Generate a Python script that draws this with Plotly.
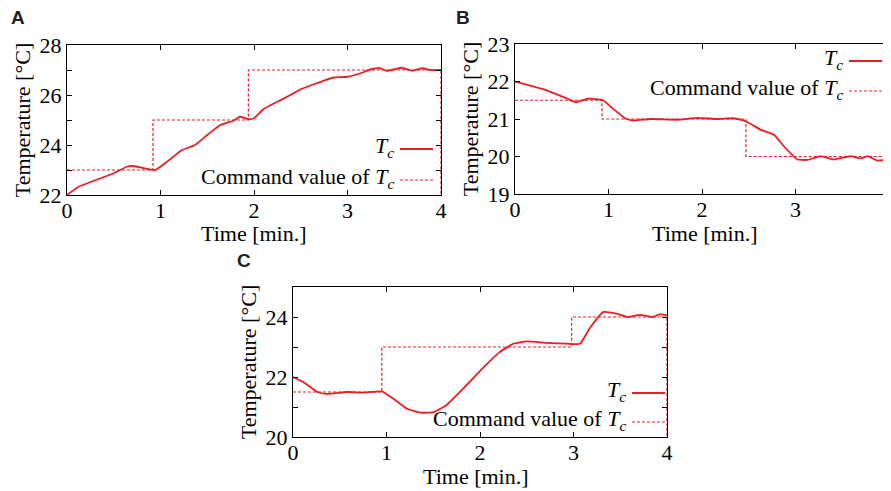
import plotly.graph_objects as go

# ---------------- data ----------------
# Panel A
a_t = [0, 0.125, 0.36, 0.5, 0.64, 0.71, 0.82, 0.945, 1.07, 1.23, 1.37, 1.5, 1.64, 1.78, 1.85, 1.94, 2.0,
       2.1, 2.25, 2.39, 2.5, 2.67, 2.85, 3.0, 3.14, 3.26, 3.35, 3.42, 3.51, 3.58, 3.69, 3.8, 3.89, 4.0]
a_tc = [22.0, 22.33, 22.67, 22.87, 23.13, 23.16, 23.07, 23.0, 23.33, 23.8, 24.0, 24.4, 24.8, 24.97, 25.13,
        25.03, 25.07, 25.43, 25.73, 26.0, 26.23, 26.47, 26.7, 26.73, 26.87, 27.04, 27.07, 26.96, 27.04,
        27.09, 26.97, 27.07, 27.0, 27.0]
a_cmd_t = [0, 0.92, 0.92, 1.94, 1.94, 4.0, 4.0]
a_cmd = [23, 23, 25, 25, 27, 27, 22]

# Panel B
b_t = [0, 0.31, 0.56, 0.65, 0.78, 0.94, 1.06, 1.19, 1.28, 1.45, 1.74, 1.95, 2.17, 2.34, 2.47, 2.63, 2.77,
       2.88, 3.02, 3.13, 3.27, 3.41, 3.59, 3.70, 3.77, 3.88, 4.0]
b_tc = [22.0, 21.79, 21.54, 21.45, 21.54, 21.5, 21.25, 21.0, 20.96, 21.0, 20.98, 21.03, 21.0, 21.02, 20.94,
        20.71, 20.58, 20.26, 19.92, 19.91, 20.01, 19.92, 20.01, 19.95, 20.01, 19.89, 19.92]
b_cmd_t = [0, 0.93, 0.93, 2.47, 2.47, 4.0]
b_cmd = [21.5, 21.5, 21, 21, 20, 20]

# Panel C
c_t = [0, 0.11, 0.26, 0.36, 0.58, 0.75, 0.95, 1.07, 1.22, 1.36, 1.5, 1.64, 1.82, 2.04, 2.21, 2.36, 2.5,
       2.71, 2.93, 3.07, 3.17, 3.32, 3.46, 3.58, 3.71, 3.85, 3.92, 4.0]
c_tc = [22.0, 21.83, 21.5, 21.44, 21.5, 21.48, 21.52, 21.28, 20.94, 20.81, 20.83, 21.06, 21.61, 22.33, 22.83,
        23.11, 23.19, 23.14, 23.11, 23.11, 23.61, 24.17, 24.11, 24.0, 24.07, 24.0, 24.09, 24.06]
c_cmd_t = [0, 0.95, 0.95, 2.98, 2.98, 4.0, 4.0]
c_cmd = [21.5, 21.5, 23, 23, 24, 24, 20]

x_ticks = [0, 1, 2, 3, 4]
panel_labels = ["A", "B", "C"]
x_title = "Time [min.]"
y_title = "Temperature [°C]"
legend_labels = ["<i>T</i><sub><i>c</i></sub>", "Command value of <i>T</i><sub><i>c</i></sub>"]

RED = "#ec1c24"
FONT = "Liberation Serif"
OFF = 8                      # page body margin in the browser
W, H = 891 - OFF, 491 - OFF

fig = go.Figure()

panels = [
    dict(t=a_t, tc=a_tc, ct=a_cmd_t, cv=a_cmd, xs="x", ys="y"),
    dict(t=b_t, tc=b_tc, ct=b_cmd_t, cv=b_cmd, xs="x2", ys="y2"),
    dict(t=c_t, tc=c_tc, ct=c_cmd_t, cv=c_cmd, xs="x3", ys="y3"),
]
for p in panels:
    fig.add_trace(go.Scatter(x=p["t"], y=p["tc"], mode="lines", xaxis=p["xs"], yaxis=p["ys"],
                             line=dict(color=RED, width=1.8, shape="spline", smoothing=0.4),
                             showlegend=False))
    fig.add_trace(go.Scatter(x=p["ct"], y=p["cv"], mode="lines", xaxis=p["xs"], yaxis=p["ys"],
                             line=dict(color=RED, width=1.2, dash="3px,2px"), showlegend=False))

def px2x(px):
    return (px - OFF) / W

def px2y(py):
    return 1 - (py - OFF) / H

doms = {
    "A": dict(x=[px2x(67), px2x(441)], y=[px2y(195), px2y(45)]),
    "B": dict(x=[px2x(515), px2x(889)], y=[px2y(194), px2y(44)]),
    "C": dict(x=[px2x(293), px2x(667)], y=[px2y(437), px2y(287)]),
}

tickfont = dict(family=FONT, size=22, color="black")
titlefont = dict(family=FONT, size=22, color="black")

def xaxis(dom, anchor):
    return dict(domain=dom, anchor=anchor, range=[0, 4], tickvals=x_ticks, ticks="inside", ticklen=5,
                tickcolor="black", showline=True, linecolor="black", linewidth=1, mirror="allticks",
                showgrid=False, zeroline=False, tickfont=tickfont, automargin=False,
                ticklabeloverflow="allow", ticklabelstandoff=-4)

def yaxis(dom, anchor, rng, tickvals, minor=None):
    d = dict(domain=dom, anchor=anchor, range=rng, tickvals=tickvals, ticks="inside", ticklen=5,
             tickcolor="black", showline=True, linecolor="black", linewidth=1, mirror="allticks",
             showgrid=False, zeroline=False, tickfont=tickfont, automargin=False,
             ticklabeloverflow="allow", ticklabelstandoff=0,
             title=dict(text=y_title, font=titlefont, standoff=2))
    if minor:
        d["minor"] = dict(tickvals=minor, ticks="inside", ticklen=5, tickcolor="black")
    return d

fig.update_layout(
    width=W, height=H, margin=dict(l=0, r=0, t=0, b=0),
    paper_bgcolor="white", plot_bgcolor="white",
    xaxis=xaxis(doms["A"]["x"], "y"),
    yaxis=yaxis(doms["A"]["y"], "x", [22, 28], [22, 24, 26, 28], minor=[23, 25, 27]),
    xaxis2=xaxis(doms["B"]["x"], "y2"),
    yaxis2=yaxis(doms["B"]["y"], "x2", [19, 23], [19, 20, 21, 22, 23]),
    xaxis3=xaxis(doms["C"]["x"], "y3"),
    yaxis3=yaxis(doms["C"]["y"], "x3", [20, 25], [20, 22, 24], minor=[21, 23, 25]),
)

# x-axis titles
for (x, y) in [(254, 233), (705, 233), (476, 476)]:
    fig.add_annotation(text=x_title, x=px2x(x), y=px2y(y), xref="paper", yref="paper",
                       xanchor="center", yanchor="middle", showarrow=False, font=titlefont)

# panel letters
for lab, (x, y) in zip(panel_labels, [(18, 18), (463, 18), (244, 260)]):
    fig.add_annotation(text=f"<b>{lab}</b>", x=px2x(x), y=px2y(y), xref="paper", yref="paper",
                       xanchor="center", yanchor="middle",
                       showarrow=False, font=dict(family="Liberation Sans", size=19, color="#231f20"))

# in-plot legends: text right-aligned, line sample to the right
legend_pos = [
    (400, 433, 149, 180),
    (849, 882, 61, 91),
    (632, 665, 393, 422),
]
for (x0, x1, y1, y2) in legend_pos:
    for i, (yy, dash, w) in enumerate([(y1, "solid", 1.8), (y2, "3px,2px", 1.2)]):
        fig.add_shape(type="line", xref="paper", yref="paper", x0=px2x(x0), x1=px2x(x1),
                      y0=px2y(yy), y1=px2y(yy), line=dict(color=RED, width=w, dash=dash))
        fig.add_annotation(text=legend_labels[i], x=px2x(x0 - 4), y=px2y(yy - 2), xref="paper",
                           yref="paper", xanchor="right", yanchor="middle", showarrow=False,
                           font=dict(family=FONT, size=22, color="black"))

fig.write_html("out.html")
